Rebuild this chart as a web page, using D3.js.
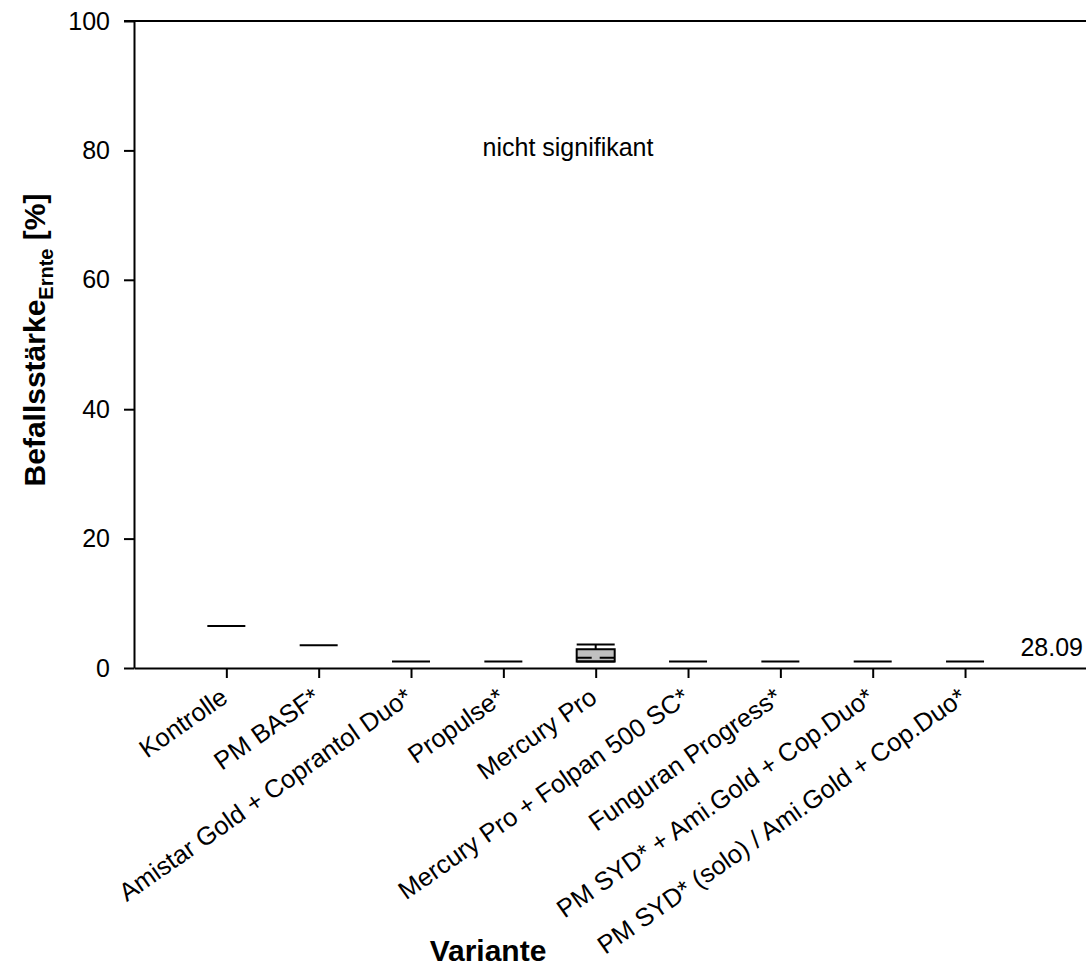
<!DOCTYPE html>
<html>
<head>
<meta charset="utf-8">
<script src="https://cdn.jsdelivr.net/npm/d3@7"></script>
<style>
  body { margin: 0; background: #fff; }
  text { font-family: "Liberation Sans", Arial, sans-serif; }
</style>
</head>
<body>
<script>
// categories along the x axis
var varianten = [
  "Kontrolle",
  "PM BASF*",
  "Amistar Gold + Coprantol Duo*",
  "Propulse*",
  "Mercury Pro",
  "Mercury Pro + Folpan 500 SC*",
  "Funguran Progress*",
  "PM SYD* + Ami.Gold + Cop.Duo*",
  "PM SYD* (solo) / Ami.Gold + Cop.Duo*"
];

// box statistics per variant (most collapse to one line)
var minVal = [6.5, 3.5, 1.0, 1.0, 1.0, 1.0, 1.0, 1.0, 1.0];
var q1Val = [6.5, 3.5, 1.0, 1.0, 1.0, 1.0, 1.0, 1.0, 1.0];
var medianVal = [6.5, 3.5, 1.0, 1.0, 1.0, 1.0, 1.0, 1.0, 1.0];
var q3Val = [6.5, 3.5, 1.0, 1.0, 2.9, 1.0, 1.0, 1.0, 1.0];
var maxVal = [6.5, 3.5, 1.0, 1.0, 3.65, 1.0, 1.0, 1.0, 1.0];
var meanVal = [6.5, 3.5, 1.0, 1.0, 1.6, 1.0, 1.0, 1.0, 1.0];

var yTicks = [0, 20, 40, 60, 80, 100];

var W = 1086, H = 965;
var mLeft = 134, mTop = 21, mRight = 1086, mBottom = 668;

var svg = d3.select("body").append("svg")
  .attr("width", W)
  .attr("height", H);

var x = d3.scaleLinear().domain([0, 10.31]).range([mLeft, mRight]);
var y = d3.scaleLinear().domain([0, 100]).range([mBottom, mTop]);

var data = varianten.map(function (v, i) {
  return {
    name: v, pos: i + 1,
    min: minVal[i], q1: q1Val[i], med: medianVal[i],
    q3: q3Val[i], max: maxVal[i], mean: meanVal[i]
  };
});

// y axis
var yAxis = d3.axisLeft(y).tickValues(yTicks).tickSize(10).tickSizeOuter(0).tickPadding(14);
var gy = svg.append("g")
  .attr("transform", "translate(" + mLeft + ",0)")
  .call(yAxis);
gy.selectAll("text").attr("font-size", 25).attr("fill", "#000")
  .style("font-family", "Liberation Sans, Arial, sans-serif");
gy.selectAll("line, path").attr("stroke", "#000").attr("stroke-width", 2);

// x axis
var xAxis = d3.axisBottom(x).tickValues(data.map(function (d) { return d.pos; }))
  .tickSize(10).tickSizeOuter(0).tickFormat("");
var gx = svg.append("g")
  .attr("transform", "translate(0," + mBottom + ")")
  .call(xAxis);
gx.selectAll("line, path").attr("stroke", "#000").attr("stroke-width", 2);

// top frame line
svg.append("line")
  .attr("x1", mLeft - 10).attr("x2", mRight)
  .attr("y1", mTop).attr("y2", mTop)
  .attr("stroke", "#000").attr("stroke-width", 2);

// rotated category labels
svg.selectAll("text.cat")
  .data(data)
  .enter()
  .append("text")
  .attr("class", "cat")
  .attr("text-anchor", "end")
  .attr("font-size", 25.5)
  .attr("transform", function (d) {
    return "translate(" + (x(d.pos) + 3) + "," + (mBottom + 33) + ") rotate(-35)";
  })
  .text(function (d) { return d.name; });

// boxes
var bw = 38;
var boxes = svg.selectAll("g.box")
  .data(data)
  .enter()
  .append("g")
  .attr("class", "box");

// whisker
boxes.filter(function (d) { return d.max > d.min; })
  .append("line")
  .attr("x1", function (d) { return x(d.pos); })
  .attr("x2", function (d) { return x(d.pos); })
  .attr("y1", function (d) { return y(d.max); })
  .attr("y2", function (d) { return y(d.min); })
  .attr("stroke", "#000").attr("stroke-width", 2);

boxes.filter(function (d) { return d.max > d.q3; })
  .append("line")
  .attr("x1", function (d) { return x(d.pos) - bw / 2; })
  .attr("x2", function (d) { return x(d.pos) + bw / 2; })
  .attr("y1", function (d) { return y(d.max); })
  .attr("y2", function (d) { return y(d.max); })
  .attr("stroke", "#000").attr("stroke-width", 2);

boxes.filter(function (d) { return d.q3 > d.q1; })
  .append("rect")
  .attr("x", function (d) { return x(d.pos) - bw / 2; })
  .attr("width", bw)
  .attr("y", function (d) { return y(d.q3); })
  .attr("height", function (d) { return y(d.q1) - y(d.q3); })
  .attr("fill", "#c0c0c0")
  .attr("stroke", "#000").attr("stroke-width", 2);

// median
boxes.append("line")
  .attr("x1", function (d) { return x(d.pos) - bw / 2; })
  .attr("x2", function (d) { return x(d.pos) + bw / 2; })
  .attr("y1", function (d) { return y(d.med); })
  .attr("y2", function (d) { return y(d.med); })
  .attr("stroke", "#000").attr("stroke-width", 2);

// mean (dashed)
boxes.filter(function (d) { return d.mean !== d.med; })
  .append("line")
  .attr("x1", function (d) { return x(d.pos) - bw / 2; })
  .attr("x2", function (d) { return x(d.pos) + bw / 2; })
  .attr("y1", function (d) { return y(d.mean); })
  .attr("y2", function (d) { return y(d.mean); })
  .attr("stroke", "#000").attr("stroke-width", 2)
  .attr("stroke-dasharray", "15,8");

// annotations
svg.append("text")
  .attr("x", x(4.7)).attr("y", 156)
  .attr("text-anchor", "middle")
  .attr("font-size", 25)
  .text("nicht signifikant");

svg.append("text")
  .attr("x", 1083).attr("y", 656)
  .attr("text-anchor", "end")
  .attr("font-size", 25)
  .text("28.09");

// axis titles
svg.append("text")
  .attr("x", 488).attr("y", 961)
  .attr("text-anchor", "middle")
  .attr("font-size", 30)
  .attr("font-weight", "bold")
  .text("Variante");

var yt = svg.append("text")
  .attr("transform", "translate(45,340) rotate(-90)")
  .attr("text-anchor", "middle")
  .attr("font-size", 30)
  .attr("font-weight", "bold");
yt.append("tspan").text("Befallsstärke");
yt.append("tspan").attr("font-size", 20).attr("dy", 8).text("Ernte");
yt.append("tspan").attr("dy", -8).text(" [%]");
</script>
</body>
</html>
